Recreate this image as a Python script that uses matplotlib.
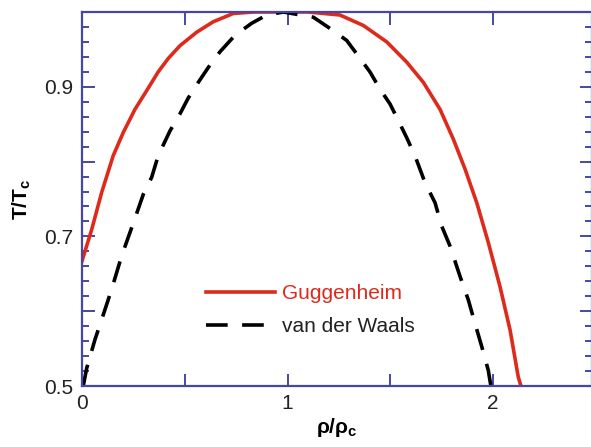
import matplotlib
matplotlib.use('Agg')
import matplotlib.pyplot as plt
from matplotlib.ticker import FixedLocator, FixedFormatter

plt.rcParams['font.family'] = ['Liberation Sans', 'DejaVu Sans']
plt.rcParams['mathtext.fontset'] = 'custom'
plt.rcParams['mathtext.rm'] = 'Liberation Sans'
plt.rcParams['mathtext.bf'] = 'Liberation Sans:bold'

# Guggenheim coexistence curve (rho/rho_c, T/T_c)
rho_gug = [0.0, 0.047, 0.096, 0.152, 0.201, 0.258, 0.315, 0.371, 0.420, 0.477,
           0.558, 0.639, 0.736, 0.834, 0.963, 1.10, 1.255, 1.369, 1.483, 1.580,
           1.661, 1.742, 1.807, 1.864, 1.921, 1.977, 2.034, 2.083, 2.123, 2.136]
t_gug = [0.667, 0.709, 0.759, 0.808, 0.839, 0.870, 0.895, 0.920, 0.938, 0.955,
         0.973, 0.987, 0.998, 1.0, 1.0, 1.0, 0.996, 0.982, 0.960, 0.933,
         0.906, 0.870, 0.830, 0.790, 0.745, 0.692, 0.633, 0.575, 0.512, 0.5]

# van der Waals coexistence curve
rho_vdw = [0.006, 0.023, 0.063, 0.096, 0.144, 0.193, 0.250, 0.298, 0.339, 0.371,
           0.428, 0.477, 0.517, 0.566, 0.615, 0.672, 0.745, 0.826, 0.899, 0.98,
           1.126, 1.207, 1.288, 1.353, 1.401, 1.450, 1.499, 1.539, 1.580, 1.620,
           1.669, 1.718, 1.750, 1.791, 1.839, 1.880, 1.912, 1.945, 1.977, 1.989]
t_vdw = [0.5, 0.524, 0.562, 0.589, 0.629, 0.674, 0.718, 0.756, 0.779, 0.808,
         0.841, 0.864, 0.885, 0.906, 0.926, 0.947, 0.969, 0.985, 0.996, 1.0,
         0.993, 0.978, 0.962, 0.938, 0.920, 0.897, 0.877, 0.855, 0.832, 0.808,
         0.772, 0.745, 0.714, 0.687, 0.647, 0.615, 0.584, 0.553, 0.521, 0.501]

x_ticks = [0, 0.5, 1, 1.5, 2]
x_labels = ['0', '', '1', '', '2']
y_ticks = [0.5, 0.6, 0.7, 0.8, 0.9, 1.0]
y_labels = ['0.5', '', '0.7', '', '0.9', '']
y_minor = [0.52, 0.54, 0.56, 0.58, 0.62, 0.64, 0.66, 0.68, 0.72, 0.74, 0.76, 0.78,
           0.82, 0.84, 0.86, 0.88, 0.92, 0.94, 0.96, 0.98]

axcol = '#4646a6'
red = '#dd2a1b'
fs = 15

fig = plt.figure(figsize=(5.91, 4.47), dpi=100)
ax = fig.add_axes([82 / 591, 1 - 386 / 447, 510 / 591, 374 / 447])

ax.plot(rho_gug, t_gug, color=red, lw=2.6, label='Guggenheim')
ax.plot(rho_vdw, t_vdw, color='black', lw=2.6, dashes=(6, 4), label='van der Waals')

ax.set_xlim(0, 510 / 205.5)
ax.set_ylim(0.5, 1.0)

ax.xaxis.set_major_locator(FixedLocator(x_ticks))
ax.xaxis.set_major_formatter(FixedFormatter(x_labels))
ax.yaxis.set_major_locator(FixedLocator(y_ticks))
ax.yaxis.set_major_formatter(FixedFormatter(y_labels))
ax.yaxis.set_minor_locator(FixedLocator(y_minor))

ax.tick_params(which='both', direction='in', top=True, right=True, color=axcol,
               width=1.4, labelsize=fs, labelcolor='#222222')
ax.tick_params(which='major', length=9, pad=6)
ax.tick_params(which='minor', length=5)
for sp in ax.spines.values():
    sp.set_color(axcol)
    sp.set_linewidth(1.6)

ax.set_xlabel(r'ρ/ρ$_\mathbf{c}$', fontsize=fs, fontweight='bold', labelpad=2)
ax.set_ylabel(r'T/T$_\mathbf{c}$', fontsize=fs, fontweight='bold', labelpad=8)

leg = ax.legend(loc='upper left', bbox_to_anchor=(0.207, 0.322), frameon=False,
                fontsize=fs, handlelength=3.3, handletextpad=0.35, labelspacing=0.65)
leg.get_texts()[0].set_color(red)
leg.get_texts()[1].set_color('#222222')

fig.savefig('out.png', dpi=100)
